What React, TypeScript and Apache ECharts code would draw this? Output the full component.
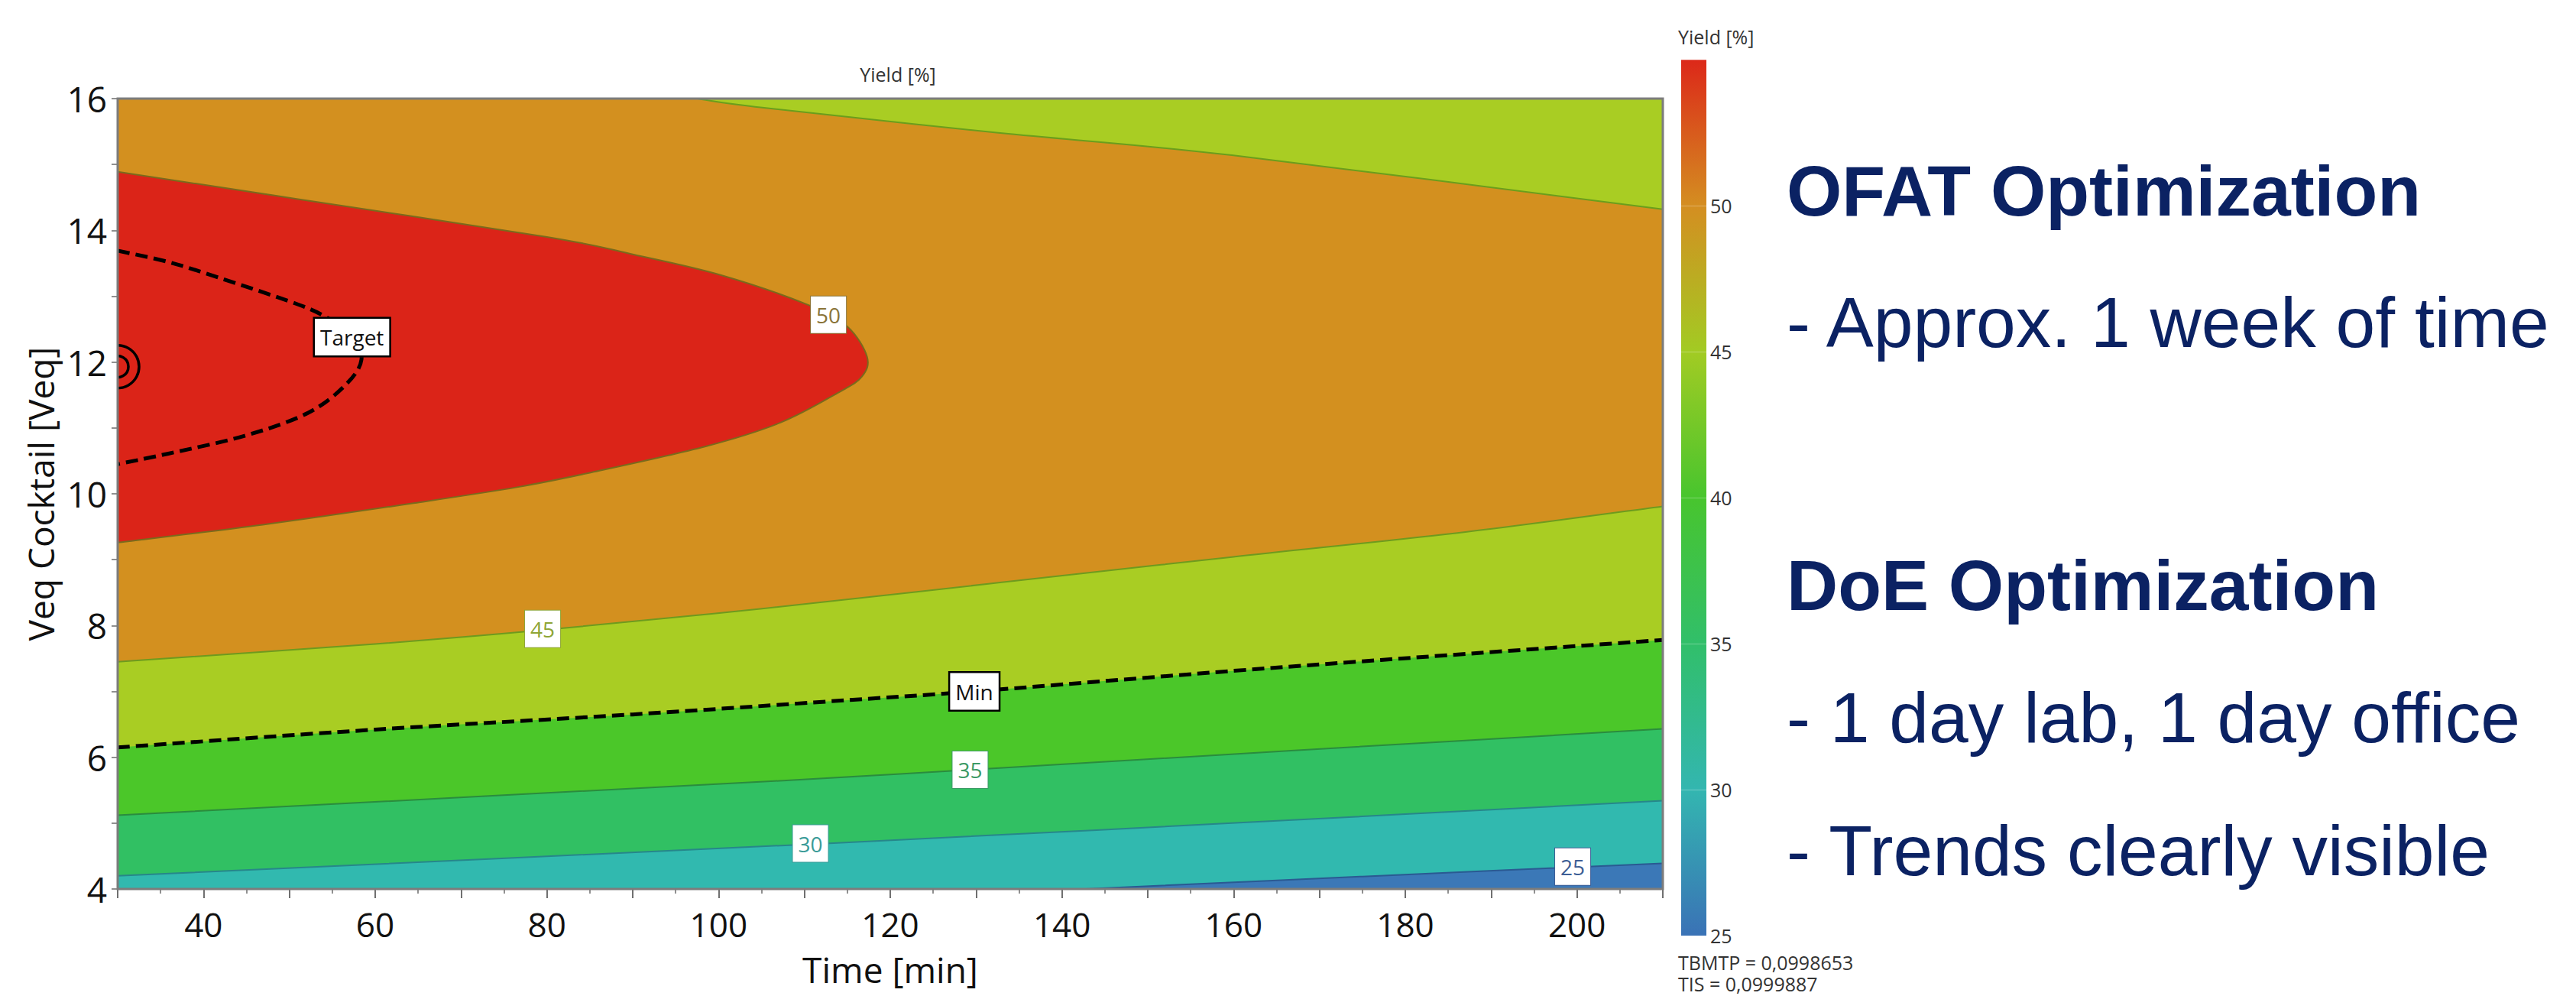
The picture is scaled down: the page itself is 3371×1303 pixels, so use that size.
import React, { useEffect, useRef } from "react";
import * as echarts from "echarts";

// ---------- data ----------
const timeRange: [number, number] = [30, 210];
const veqRange: [number, number] = [4, 16];
const yieldRange: [number, number] = [25, 55];

// contour lines as [time, veq] points
const contour50: [number, number][] = [
  [30, 14.89], [50.7, 14.48], [80, 13.9], [90.2, 13.63], [100.3, 13.32],
  [110.6, 12.86], [115, 12.54], [117.3, 12.08], [116.7, 11.78], [114, 11.54], [107.2, 11.08],
  [98.5, 10.72], [85, 10.32], [76.5, 10.1], [65.1, 9.87], [46.9, 9.53], [30, 9.26],
];
const contourTarget: [number, number][] = [
  [30, 13.69], [35.9, 13.52], [41.8, 13.28], [50.7, 12.89], [54.3, 12.68], [57.3, 12.4],
  [58.4, 12.04], [56.6, 11.66], [52.2, 11.23], [44.8, 10.88], [35.9, 10.61], [30, 10.45],
];
const contour45Upper: [number, number][] = [
  [97.5, 16], [105.3, 15.86], [132.6, 15.48], [159.8, 15.14], [210, 14.32],
];
const contour45Lower: [number, number][] = [
  [30, 7.45], [60, 7.72], [79.5, 7.93], [105.3, 8.26], [132.6, 8.65], [159.8, 9.04], [187, 9.42], [210, 9.81],
];
const contour40Min: [number, number][] = [
  [30, 6.15], [60, 6.42], [90, 6.65], [114.2, 6.86], [129.8, 7.0], [159.8, 7.31], [185, 7.55], [210, 7.78],
];
const contour35: [number, number][] = [
  [30, 5.12], [105.3, 5.63], [129.3, 5.81], [166.7, 6.1], [210, 6.43],
];
const contour30: [number, number][] = [
  [30, 4.2], [110.7, 4.68], [159.8, 5.0], [210, 5.34],
];
const contour25: [number, number][] = [
  [142.8, 4.0], [175, 4.19], [210, 4.39],
];
const optimumPoint: [number, number] = [30, 11.93];

const contourLabels: [string, number, number][] = [
  ["Target", 57.3, 12.38],
  ["50", 112.8, 12.72],
  ["45", 79.5, 7.95],
  ["Min", 129.8, 7.0],
  ["35", 129.3, 5.81],
  ["30", 110.7, 4.69],
  ["25", 199.5, 4.34],
];

const colorbarStops: [number, string][] = [
  [55, "#DC2819"], [50, "#D48E21"], [45, "#A2CB23"], [40, "#48C52E"],
  [35, "#31BF6A"], [30, "#33B6B0"], [25, "#3A72B6"],
];

const chartTitle = "Yield [%]";
const xName = "Time [min]";
const yName = "Veq Cocktail [Veq]";
const fitStats = ["TBMTP = 0,0998653", "TIS = 0,0999887"];
const panelTexts: [string, boolean][] = [
  ["OFAT Optimization", true],
  ["- Approx. 1 week of time", false],
  ["DoE Optimization", true],
  ["- 1 day lab, 1 day office", false],
  ["- Trends clearly visible", false],
];

// ---------- styles ----------
const C = {
  orange: "#D3901F",
  red: "#DB2418",
  yellowGreen: "#A9CD23",
  green: "#4BC729",
  teGreen: "#31C063",
  teal: "#31B9AF",
  blue: "#3B78B7",
};
const labelColors: Record<string, string> = {
  Target: "#111", "50": "#8A7438", "45": "#8EA536", Min: "#111", "35": "#3D9A66", "30": "#3A9B98", "25": "#3D5E95",
};
const FONT = "'Open Sans', 'Noto Sans', sans-serif";

function smoothPath(p: number[][]): string {
  let d = `M${p[0][0]},${p[0][1]}`;
  for (let i = 0; i < p.length - 1; i++) {
    const p0 = p[i - 1] || p[i];
    const p1 = p[i];
    const p2 = p[i + 1];
    const p3 = p[i + 2] || p2;
    const c1x = p1[0] + (p2[0] - p0[0]) / 6;
    const c1y = p1[1] + (p2[1] - p0[1]) / 6;
    const c2x = p2[0] - (p3[0] - p1[0]) / 6;
    const c2y = p2[1] - (p3[1] - p1[1]) / 6;
    d += ` C${c1x},${c1y} ${c2x},${c2y} ${p2[0]},${p2[1]}`;
  }
  return d;
}

function areaSeries(curve: [number, number][], closing: [number, number][], fill: string, z: number) {
  return {
    type: "custom",
    xAxisIndex: 0,
    yAxisIndex: 0,
    clip: true,
    silent: true,
    z,
    data: [[timeRange[0], veqRange[0]]],
    renderItem: (_p: any, api: any) => {
      const px = curve.map((pt) => api.coord(pt));
      let d = smoothPath(px);
      closing.forEach((pt) => {
        const c = api.coord(pt);
        d += ` L${c[0]},${c[1]}`;
      });
      d += " Z";
      return { type: "path", shape: { pathData: d }, style: { fill, stroke: null } };
    },
  };
}

function lineSeries(curve: [number, number][], stroke: string, lineWidth: number, z: number, dash?: number[]) {
  return {
    type: "custom",
    xAxisIndex: 0,
    yAxisIndex: 0,
    clip: true,
    silent: true,
    z,
    data: [[timeRange[0], veqRange[0]]],
    renderItem: (_p: any, api: any) => {
      const px = curve.map((pt) => api.coord(pt));
      return {
        type: "path",
        shape: { pathData: smoothPath(px) },
        style: { fill: null, stroke, lineWidth, lineDash: dash || null },
      };
    },
  };
}

export default function App() {
  const ref = useRef<HTMLDivElement>(null);

  useEffect(() => {
    if (!ref.current) return;
    const chart = echarts.init(ref.current, undefined, { renderer: "svg" });
    const [t0, t1] = timeRange;
    const [v0, v1] = veqRange;

    const option: any = {
      animation: false,
      backgroundColor: "#ffffff",
      grid: [
        { left: 154, top: 129, width: 2022, height: 1034, show: true, backgroundColor: C.orange, borderWidth: 0 },
        { left: 2200, top: 78, width: 33, height: 1146 },
      ],
      xAxis: [
        {
          type: "value",
          gridIndex: 0,
          min: t0,
          max: t1,
          interval: 10,
          name: xName,
          nameLocation: "middle",
          nameGap: 82,
          nameTextStyle: { fontSize: 46, color: "#111", fontFamily: FONT },
          axisLine: { show: true, lineStyle: { color: "#808080", width: 2 } },
          axisTick: { show: true, length: 12, lineStyle: { color: "#707070", width: 2 } },
          minorTick: { show: true, splitNumber: 2, length: 6, lineStyle: { color: "#909090", width: 2 } },
          axisLabel: {
            fontSize: 44,
            color: "#111",
            fontFamily: FONT,
            margin: 24,
            formatter: (v: number) => (v % 20 === 0 ? String(v) : ""),
          },
          splitLine: { show: false },
        },
        { type: "value", gridIndex: 1, min: 0, max: 1, show: false },
      ],
      yAxis: [
        {
          type: "value",
          gridIndex: 0,
          min: v0,
          max: v1,
          interval: 1,
          name: yName,
          nameLocation: "middle",
          nameGap: 72,
          nameTextStyle: { fontSize: 46, color: "#111", fontFamily: FONT },
          axisLine: { show: true, lineStyle: { color: "#808080", width: 2 } },
          axisTick: { show: true, length: 8, lineStyle: { color: "#909090", width: 2 } },
          axisLabel: {
            fontSize: 46,
            color: "#111",
            fontFamily: FONT,
            margin: 14,
            formatter: (v: number) => (v % 2 === 0 ? String(v) : ""),
          },
          splitLine: { show: false },
        },
        {
          type: "value",
          gridIndex: 1,
          min: yieldRange[0],
          max: yieldRange[1],
          interval: 5,
          position: "right",
          z: 5,
          axisLine: { show: false },
          axisTick: { show: false },
          axisLabel: {
            fontSize: 25,
            color: "#333",
            fontFamily: FONT,
            margin: 5,
            formatter: (v: number) => (v < yieldRange[1] ? String(v) : ""),
          },
          splitLine: { show: true, lineStyle: { color: "rgba(255,255,255,0.3)", width: 1 } },
        },
      ],
      graphic: [
        {
          type: "text",
          x: 1175,
          y: 97,
          style: { text: chartTitle, fontSize: 25, fontFamily: FONT, fill: "#333", align: "center", verticalAlign: "middle" },
        },
        {
          type: "text",
          x: 2196,
          y: 48,
          style: { text: chartTitle, fontSize: 25, fontFamily: FONT, fill: "#333", align: "left", verticalAlign: "middle" },
        },
        ...fitStats.map((s, i) => ({
          type: "text",
          x: 2196,
          y: 1259 + i * 28,
          style: { text: s, fontSize: 25, fontFamily: FONT, fill: "#333", align: "left", verticalAlign: "middle" },
        })),
        ...panelTexts.map(([s, bold], i) => ({
          type: "text",
          x: 2338,
          y: [250, 422, 766, 939, 1113][i],
          style: {
            text: s,
            fontSize: 93,
            fontWeight: bold ? "bold" : "normal",
            fontFamily: "'Liberation Sans', Arial, sans-serif",
            fill: "#0B2263",
            align: "left",
            verticalAlign: "middle",
          },
        })),
      ],
      series: [
        // filled bands
        areaSeries(contour45Upper, [[t1, v1]], C.yellowGreen, 2),
        areaSeries(contour50, [], C.red, 2),
        areaSeries(contour45Lower, [[t1, v0], [t0, v0]], C.yellowGreen, 2),
        areaSeries(contour40Min, [[t1, v0], [t0, v0]], C.green, 2),
        areaSeries(contour35, [[t1, v0], [t0, v0]], C.teGreen, 2),
        areaSeries(contour30, [[t1, v0], [t0, v0]], C.teal, 2),
        areaSeries(contour25, [[t1, v0]], C.blue, 2),
        // contour lines
        lineSeries(contour45Upper, "#6A9E1C", 2, 3),
        lineSeries(contour50, "#7A6A1C", 2, 3),
        lineSeries(contour45Lower, "#6E9A1E", 2, 3),
        lineSeries(contour35, "#2A8C3E", 2, 3),
        lineSeries(contour30, "#26878A", 2, 3),
        lineSeries(contour25, "#2A5A92", 2, 3),
        lineSeries(contour40Min, "#000", 5, 4, [16, 8]),
        lineSeries(contourTarget, "#000", 5, 4, [16, 8]),
        // optimum rings
        {
          type: "custom",
          xAxisIndex: 0,
          yAxisIndex: 0,
          clip: true,
          silent: true,
          z: 5,
          data: [optimumPoint],
          renderItem: (_p: any, api: any) => {
            const c = api.coord([api.value(0), api.value(1)]);
            return {
              type: "group",
              children: [
                { type: "circle", shape: { cx: c[0], cy: c[1], r: 28 }, style: { fill: null, stroke: "#000", lineWidth: 3.5 } },
                { type: "circle", shape: { cx: c[0], cy: c[1], r: 14 }, style: { fill: null, stroke: "#000", lineWidth: 3.5 } },
              ],
            };
          },
        },
        // frame
        {
          type: "custom",
          xAxisIndex: 0,
          yAxisIndex: 0,
          clip: false,
          silent: true,
          z: 6,
          data: [[t0, v0]],
          renderItem: (_p: any, api: any) => {
            const a = api.coord([t0, v1]);
            const b = api.coord([t1, v0]);
            return {
              type: "rect",
              shape: { x: a[0], y: a[1], width: b[0] - a[0], height: b[1] - a[1] },
              style: { fill: null, stroke: "#7C7C7C", lineWidth: 3 },
            };
          },
        },
        // contour labels
        {
          type: "scatter",
          xAxisIndex: 0,
          yAxisIndex: 0,
          symbolSize: 1,
          silent: true,
          z: 10,
          itemStyle: { color: "rgba(0,0,0,0)", opacity: 1 },
          data: contourLabels.map(([text, t, v]) => {
            const dark = text === "Min" || text === "Target";
            return {
              name: text,
              value: [t, v],
              label: {
                color: labelColors[text],
                borderColor: dark ? "#000" : labelColors[text],
                borderWidth: dark ? 2.5 : 1,
              },
            };
          }),
          label: {
            show: true,
            position: "inside",
            formatter: "{b}",
            backgroundColor: "#ffffff",
            opacity: 1,
            padding: [9, 7, 9, 7],
            fontSize: 28,
            lineHeight: 30,
            fontFamily: FONT,
          },
        },
        // colorbar
        {
          type: "custom",
          xAxisIndex: 1,
          yAxisIndex: 1,
          silent: true,
          z: 1,
          data: [[0, yieldRange[0]]],
          renderItem: (_p: any, api: any) => {
            const a = api.coord([0, yieldRange[1]]);
            const b = api.coord([1, yieldRange[0]]);
            const span = yieldRange[1] - yieldRange[0];
            return {
              type: "rect",
              shape: { x: a[0], y: a[1], width: b[0] - a[0], height: b[1] - a[1] },
              style: {
                fill: new echarts.graphic.LinearGradient(
                  0, 0, 0, 1,
                  colorbarStops.map(([v, c]) => ({ offset: (yieldRange[1] - v) / span, color: c }))
                ),
              },
            };
          },
        },
      ],
    };

    chart.setOption(option);
    return () => chart.dispose();
  }, []);

  return (
    <div
      ref={ref}
      style={{ position: "absolute", left: 0, top: 0, width: 3371, height: 1303, background: "#fff" }}
    />
  );
}
